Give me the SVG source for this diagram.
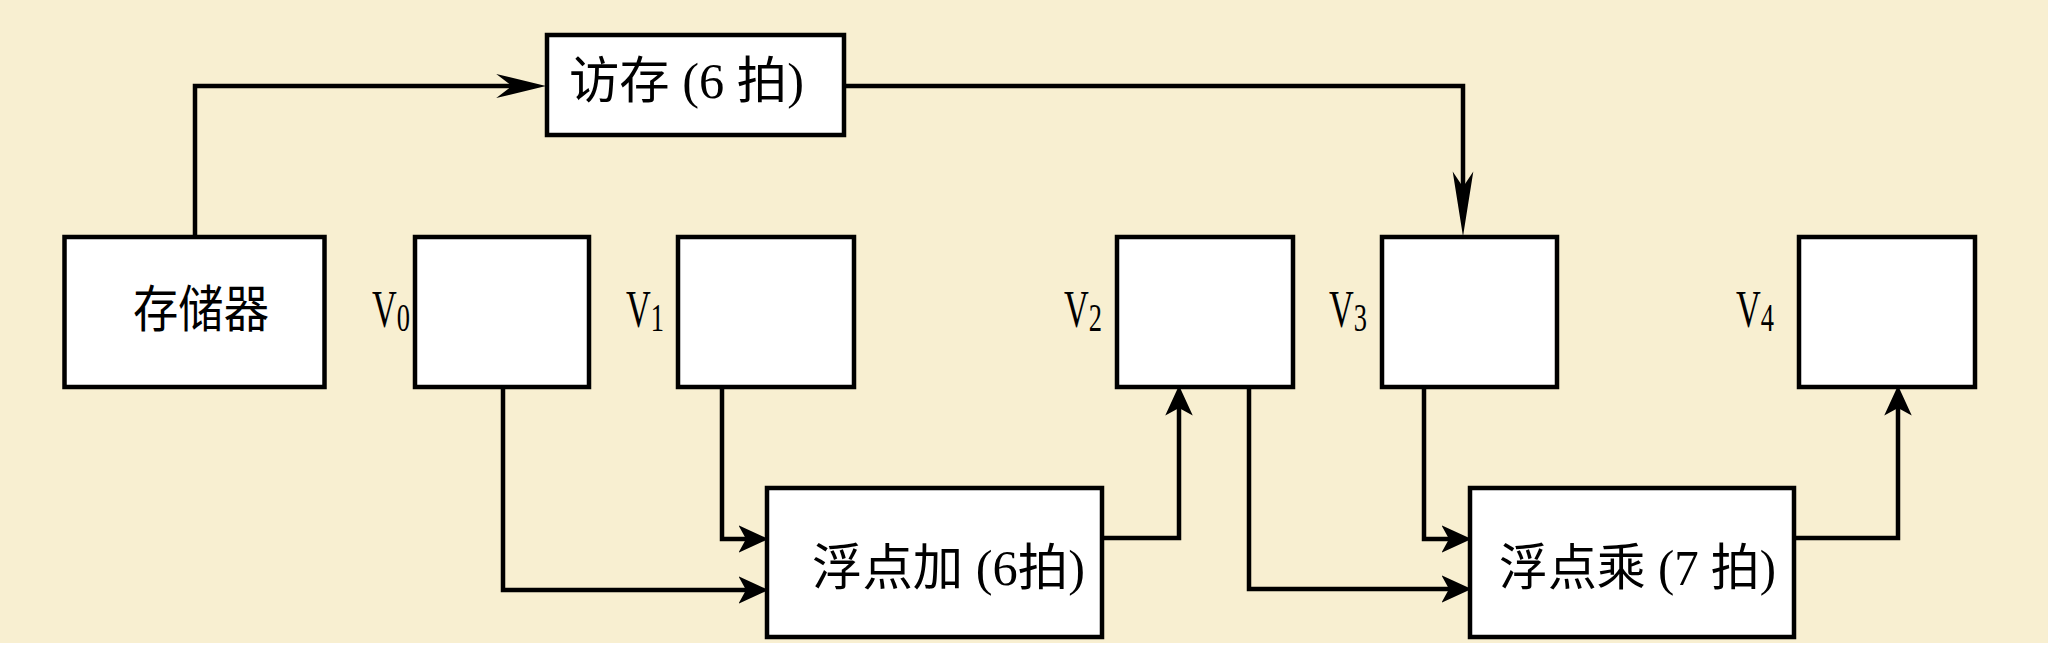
<svg xmlns="http://www.w3.org/2000/svg" width="2048" height="650" viewBox="0 0 2048 650">
<style>
.box{fill:#fff;stroke:#000;stroke-width:4.5}
.wire{fill:none;stroke:#000;stroke-width:4.5;stroke-linejoin:miter}
.lbl{font-family:"Liberation Serif","Noto Sans CJK SC",serif;font-size:50px;fill:#000}
.vl{font-family:"Liberation Serif",serif;font-size:52px;fill:#000}
.vs{font-size:40px}
</style>
<defs>
<marker id="aS" markerUnits="userSpaceOnUse" markerWidth="30" markerHeight="30" viewBox="0 -12 24 24" refX="10" refY="0" orient="auto"><path d="M0,-11 L24,0 L0,11 L6,0 Z" fill="#000"/></marker>
<marker id="aH" markerUnits="userSpaceOnUse" markerWidth="50" markerHeight="30" viewBox="0 -12 48 24" refX="18" refY="0" orient="auto"><path d="M0,-11.5 L48,0 L0,11.5 L15,0 Z" fill="#000"/></marker>
<marker id="aV" markerUnits="userSpaceOnUse" markerWidth="65" markerHeight="24" viewBox="0 -11 63 22" refX="18" refY="0" orient="auto"><path d="M0,-10 L63,0 L0,10 L15,0 Z" fill="#000"/></marker>
</defs>
<rect x="0" y="0" width="2048" height="650" fill="#fff"/>
<rect x="0" y="0" width="2048" height="643" fill="#F8EFD1"/>

<g id="connectors">
<path class="wire" d="M195,237 V86 H515" marker-end="url(#aH)"/>
<path class="wire" d="M846,86 H1463 V190" marker-end="url(#aV)"/>
<path class="wire" d="M503,389 V590 H751" marker-end="url(#aS)"/>
<path class="wire" d="M722,389 V539 H751" marker-end="url(#aS)"/>
<path class="wire" d="M1104,538 H1179 V403" marker-end="url(#aS)"/>
<path class="wire" d="M1249,389 V589 H1454" marker-end="url(#aS)"/>
<path class="wire" d="M1424,389 V539 H1454" marker-end="url(#aS)"/>
<path class="wire" d="M1796,538 H1898 V403" marker-end="url(#aS)"/>
</g>

<g id="memory">
<rect class="box" x="64.5" y="237" width="260" height="150"/>
<text class="lbl" x="133" y="327" textLength="136" lengthAdjust="spacingAndGlyphs">存储器</text>
</g>
<g id="access">
<rect class="box" x="547" y="35" width="297" height="100"/>
<text class="lbl" x="569" y="98" textLength="235" lengthAdjust="spacingAndGlyphs">访存 (6 拍)</text>
</g>
<g id="V0">
<rect class="box" x="415" y="237" width="174" height="150"/>
<text class="vl" transform="translate(372,327) scale(0.66,1)">V<tspan class="vs" dy="4">0</tspan></text>
</g>
<g id="V1">
<rect class="box" x="678" y="237" width="176" height="150"/>
<text class="vl" transform="translate(626,327) scale(0.66,1)">V<tspan class="vs" dy="4">1</tspan></text>
</g>
<g id="V2">
<rect class="box" x="1117" y="237" width="176" height="150"/>
<text class="vl" transform="translate(1064,327) scale(0.66,1)">V<tspan class="vs" dy="4">2</tspan></text>
</g>
<g id="V3">
<rect class="box" x="1382" y="237" width="175" height="150"/>
<text class="vl" transform="translate(1329,327) scale(0.66,1)">V<tspan class="vs" dy="4">3</tspan></text>
</g>
<g id="V4">
<rect class="box" x="1799" y="237" width="176" height="150"/>
<text class="vl" transform="translate(1736,327) scale(0.66,1)">V<tspan class="vs" dy="4">4</tspan></text>
</g>
<g id="fadd">
<rect class="box" x="767" y="488" width="335" height="149"/>
<text class="lbl" x="812" y="585" textLength="273" lengthAdjust="spacingAndGlyphs">浮点加 (6拍)</text>
</g>
<g id="fmul">
<rect class="box" x="1470" y="488" width="324" height="149"/>
<text class="lbl" x="1499" y="585" textLength="277" lengthAdjust="spacingAndGlyphs">浮点乘 (7 拍)</text>
</g>
</svg>
